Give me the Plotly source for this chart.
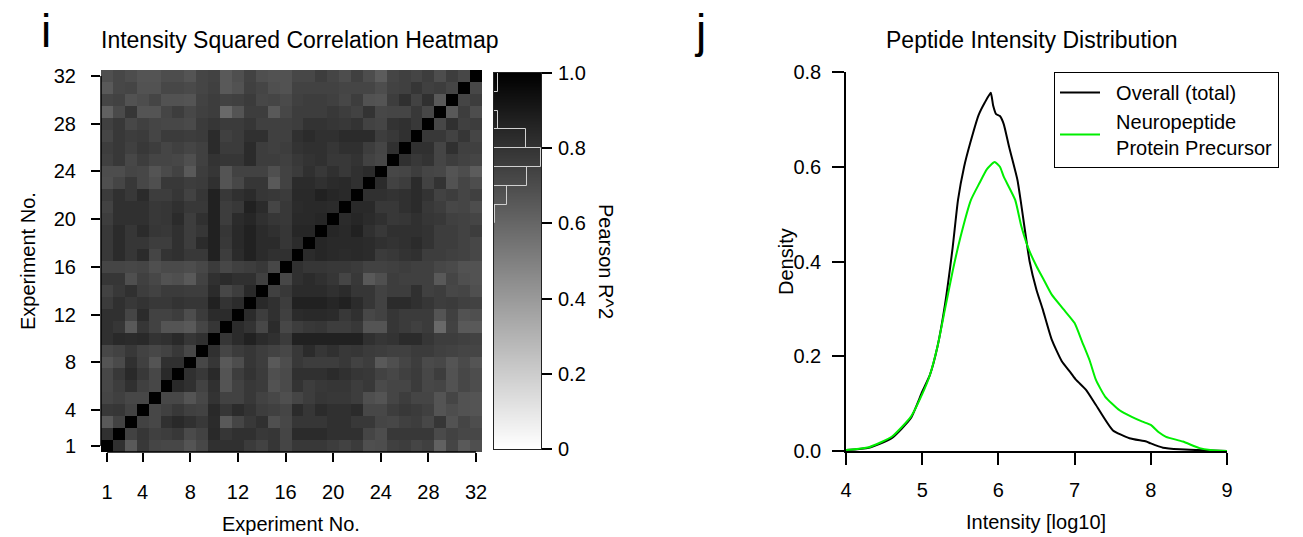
import numpy as np
import plotly.graph_objects as go

W, H = 1303, 537

experiments = list(range(1, 33))
experiment_ticks = [1, 4, 8, 12, 16, 20, 24, 28, 32]

# Pearson R^2 between experiments, lower triangle: row r holds columns 1..r-1
r2_lower = [
    [],
    [0.81],
    [0.65, 0.74],
    [0.78, 0.79, 0.74],
    [0.73, 0.75, 0.72, 0.72],
    [0.72, 0.76, 0.81, 0.75, 0.72],
    [0.72, 0.78, 0.84, 0.78, 0.72, 0.84],
    [0.67, 0.71, 0.81, 0.75, 0.67, 0.81, 0.81],
    [0.72, 0.74, 0.78, 0.74, 0.72, 0.74, 0.78, 0.72],
    [0.81, 0.84, 0.83, 0.84, 0.80, 0.81, 0.84, 0.79, 0.81],
    [0.81, 0.79, 0.65, 0.79, 0.74, 0.67, 0.67, 0.65, 0.73, 0.79],
    [0.81, 0.81, 0.73, 0.83, 0.74, 0.74, 0.76, 0.70, 0.77, 0.83, 0.83],
    [0.77, 0.81, 0.78, 0.80, 0.78, 0.78, 0.80, 0.79, 0.79, 0.87, 0.80, 0.83],
    [0.74, 0.78, 0.81, 0.76, 0.74, 0.77, 0.77, 0.76, 0.76, 0.83, 0.72, 0.76, 0.84],
    [0.79, 0.79, 0.69, 0.75, 0.72, 0.68, 0.69, 0.65, 0.74, 0.81, 0.83, 0.81, 0.81, 0.75],
    [0.73, 0.73, 0.72, 0.73, 0.69, 0.71, 0.71, 0.70, 0.72, 0.77, 0.72, 0.75, 0.76, 0.78, 0.72],
    [0.78, 0.83, 0.79, 0.83, 0.73, 0.80, 0.81, 0.78, 0.78, 0.87, 0.76, 0.83, 0.87, 0.83,
     0.81, 0.81],
    [0.78, 0.83, 0.79, 0.79, 0.76, 0.76, 0.81, 0.76, 0.83, 0.87, 0.78, 0.84, 0.87, 0.83,
     0.83, 0.79, 0.83],
    [0.78, 0.83, 0.79, 0.83, 0.79, 0.78, 0.81, 0.76, 0.79, 0.87, 0.79, 0.84, 0.87, 0.83,
     0.81, 0.79, 0.85, 0.85],
    [0.76, 0.81, 0.81, 0.81, 0.78, 0.79, 0.83, 0.76, 0.81, 0.87, 0.76, 0.83, 0.85, 0.81,
     0.79, 0.78, 0.84, 0.84, 0.85],
    [0.74, 0.81, 0.81, 0.81, 0.78, 0.79, 0.81, 0.78, 0.78, 0.87, 0.76, 0.78, 0.87, 0.83,
     0.73, 0.78, 0.83, 0.84, 0.84, 0.83],
    [0.77, 0.81, 0.78, 0.83, 0.76, 0.76, 0.79, 0.74, 0.79, 0.87, 0.78, 0.81, 0.83, 0.79,
     0.78, 0.77, 0.84, 0.84, 0.87, 0.85, 0.84],
    [0.69, 0.73, 0.78, 0.72, 0.69, 0.78, 0.78, 0.76, 0.77, 0.81, 0.67, 0.72, 0.79, 0.79,
     0.65, 0.74, 0.83, 0.83, 0.81, 0.83, 0.84, 0.81],
    [0.70, 0.70, 0.73, 0.72, 0.67, 0.71, 0.74, 0.65, 0.76, 0.79, 0.67, 0.74, 0.74, 0.74,
     0.69, 0.74, 0.77, 0.81, 0.78, 0.81, 0.78, 0.81, 0.83],
    [0.75, 0.78, 0.72, 0.76, 0.73, 0.73, 0.72, 0.69, 0.75, 0.80, 0.79, 0.79, 0.83, 0.76,
     0.76, 0.75, 0.78, 0.80, 0.81, 0.78, 0.78, 0.80, 0.74, 0.72],
    [0.76, 0.78, 0.75, 0.78, 0.76, 0.73, 0.75, 0.73, 0.75, 0.83, 0.77, 0.77, 0.83, 0.76,
     0.75, 0.76, 0.80, 0.81, 0.81, 0.79, 0.81, 0.81, 0.76, 0.73, 0.81],
    [0.73, 0.78, 0.76, 0.77, 0.73, 0.77, 0.77, 0.76, 0.77, 0.83, 0.75, 0.77, 0.81, 0.81,
     0.75, 0.75, 0.81, 0.83, 0.81, 0.81, 0.83, 0.83, 0.83, 0.76, 0.78, 0.81],
    [0.75, 0.78, 0.72, 0.75, 0.73, 0.72, 0.72, 0.71, 0.77, 0.79, 0.77, 0.77, 0.79, 0.75,
     0.75, 0.75, 0.76, 0.80, 0.80, 0.79, 0.78, 0.80, 0.74, 0.73, 0.80, 0.81, 0.78],
    [0.62, 0.71, 0.79, 0.67, 0.67, 0.73, 0.76, 0.72, 0.75, 0.76, 0.59, 0.67, 0.76, 0.76,
     0.65, 0.72, 0.76, 0.76, 0.76, 0.78, 0.76, 0.74, 0.80, 0.72, 0.73, 0.73, 0.78, 0.72],
    [0.73, 0.74, 0.68, 0.70, 0.73, 0.68, 0.68, 0.67, 0.74, 0.76, 0.74, 0.75, 0.77, 0.72,
     0.73, 0.71, 0.75, 0.76, 0.76, 0.75, 0.72, 0.76, 0.68, 0.67, 0.76, 0.81, 0.74, 0.81,
     0.65],
    [0.65, 0.72, 0.73, 0.68, 0.68, 0.72, 0.72, 0.71, 0.73, 0.75, 0.65, 0.68, 0.75, 0.73,
     0.69, 0.68, 0.74, 0.74, 0.74, 0.74, 0.73, 0.73, 0.73, 0.70, 0.74, 0.75, 0.79, 0.75,
     0.76, 0.73],
    [0.69, 0.72, 0.70, 0.67, 0.67, 0.70, 0.70, 0.67, 0.73, 0.74, 0.65, 0.69, 0.74, 0.69,
     0.68, 0.68, 0.72, 0.72, 0.76, 0.73, 0.70, 0.75, 0.70, 0.64, 0.73, 0.75, 0.73, 0.76,
     0.70, 0.76, 0.72],
]

r2_ticks = [0, 0.2, 0.4, 0.6, 0.8, 1.0]
r2_ticktext = ["0", "0.2", "0.4", "0.6", "0.8", "1.0"]
r2_bins = [0.6, 0.65, 0.7, 0.75, 0.8, 0.85, 0.9, 0.95, 1.0]

# density of peptide intensities (log10)
overall_x = [4.0, 4.3, 4.6, 4.85, 5.0, 5.1, 5.2, 5.3, 5.4, 5.47, 5.55, 5.63, 5.74,
             5.82, 5.9, 5.93, 5.97, 6.02, 6.07, 6.14, 6.25, 6.3, 6.41, 6.5, 6.58,
             6.7, 6.83, 6.95, 7.02, 7.15, 7.28, 7.5, 7.72, 7.94, 8.0, 8.16, 8.38,
             8.6, 8.8, 9.0]
overall_density = [0.002, 0.007, 0.027, 0.069, 0.125, 0.16, 0.22, 0.31, 0.43, 0.53,
                   0.60, 0.65, 0.709, 0.735, 0.756, 0.73, 0.711, 0.707, 0.69, 0.642,
                   0.572, 0.52, 0.40, 0.34, 0.30, 0.235, 0.19, 0.165, 0.15, 0.129,
                   0.097, 0.044, 0.027, 0.020, 0.016, 0.007, 0.0035, 0.002, 0.001, 0.0]

neuro_x = [4.0, 4.3, 4.6, 4.85, 5.0, 5.1, 5.2, 5.3, 5.4, 5.5, 5.64, 5.75, 5.85, 5.95,
           6.02, 6.07, 6.22, 6.3, 6.4, 6.5, 6.6, 6.7, 6.85, 7.0, 7.1, 7.2, 7.28, 7.4,
           7.59, 7.75, 7.89, 8.0, 8.1, 8.2, 8.42, 8.64, 8.78, 9.0]
neuro_density = [0.002, 0.008, 0.030, 0.072, 0.12, 0.16, 0.22, 0.30, 0.38, 0.45,
                 0.53, 0.565, 0.595, 0.610, 0.600, 0.579, 0.53, 0.475, 0.425, 0.39,
                 0.36, 0.33, 0.30, 0.27, 0.23, 0.19, 0.15, 0.115, 0.086, 0.072, 0.062,
                 0.055, 0.04, 0.030, 0.020, 0.006, 0.002, 0.0]

intensity_ticks = [4, 5, 6, 7, 8, 9]
density_ticks = [0, 0.2, 0.4, 0.6, 0.8]
density_ticktext = ["0.0", "0.2", "0.4", "0.6", "0.8"]

# full symmetric matrix
n = len(experiments)
r2 = np.eye(n)
for i, row in enumerate(r2_lower):
    for j, v in enumerate(row):
        r2[i, j] = v
        r2[j, i] = v

# histogram of all matrix values (diagonal included) for the colour key
counts, edges = np.histogram(r2.ravel(), bins=r2_bins)
bin_mids = (edges[:-1] + edges[1:]) / 2

grey = [[0, "#ffffff"], [1, "#000000"]]
font = "Liberation Sans, Arial, Helvetica, sans-serif"


def px_x(x):
    return x / W


def px_y(y):
    return 1 - y / H


hm_x = [px_x(101), px_x(482)]
hm_y = [px_y(452), px_y(70)]
cb_x = [px_x(494), px_x(541)]
cb_y = [px_y(449), px_y(73)]
de_x = [px_x(846), px_x(1227)]
de_y = [px_y(451), px_y(72)]

fig = go.Figure()

# Heatmap
fig.add_trace(
    go.Heatmap(
        z=r2,
        x=experiments,
        y=experiments,
        colorscale=grey,
        zmin=0,
        zmax=1,
        showscale=False,
        xaxis="x",
        yaxis="y",
    )
)

# Colour key drawn as a one-column heatmap
key_levels = np.linspace(0, 1, 256)
fig.add_trace(
    go.Heatmap(
        z=[[v] for v in key_levels],
        x=[0],
        y=key_levels,
        colorscale=grey,
        zmin=0,
        zmax=1,
        showscale=False,
        hoverinfo="skip",
        xaxis="x2",
        yaxis="y2",
    )
)

# Histogram bars on top of the key
fig.add_trace(
    go.Bar(
        x=counts,
        y=bin_mids,
        width=0.05,
        orientation="h",
        marker=dict(color="rgba(0,0,0,0)", line=dict(color="#d0d0d0", width=1)),
        showlegend=False,
        xaxis="x4",
        yaxis="y2",
    )
)

# Density curves
fig.add_trace(
    go.Scatter(
        x=overall_x,
        y=overall_density,
        mode="lines",
        line=dict(color="#000000", width=2, shape="spline", smoothing=0.5),
        name="\u00a0\u00a0Overall (total)",
        cliponaxis=False,
        xaxis="x3",
        yaxis="y3",
    )
)
fig.add_trace(
    go.Scatter(
        x=neuro_x,
        y=neuro_density,
        mode="lines",
        line=dict(color="#00ee00", width=2, shape="spline", smoothing=0.5),
        name="\u00a0\u00a0Neuropeptide<br>\u00a0\u00a0Protein Precursor",
        cliponaxis=False,
        xaxis="x3",
        yaxis="y3",
    )
)

tick_common = dict(
    ticks="outside",
    tickcolor="black",
    tickwidth=1.5,
    tickfont=dict(size=20, color="black"),
    showgrid=False,
    zeroline=False,
    automargin=False,
    fixedrange=True,
)

fig.update_layout(
    template="none",
    width=W,
    height=H,
    autosize=False,
    margin=dict(l=0, r=0, t=0, b=0, pad=0),
    paper_bgcolor="white",
    plot_bgcolor="white",
    font=dict(family=font, size=20, color="black"),
    showlegend=True,
    legend=dict(
        x=px_x(1054),
        y=px_y(72),
        xanchor="left",
        yanchor="top",
        bordercolor="black",
        borderwidth=1,
        bgcolor="white",
        font=dict(size=20),
        itemwidth=40,
        tracegroupgap=0,
    ),
    xaxis=dict(
        domain=hm_x,
        range=[0.5, 32.5],
        tickvals=experiment_ticks,
        ticklen=9,
        ticklabelstandoff=13,
        showline=False,
        anchor="y",
        **tick_common,
    ),
    yaxis=dict(
        domain=hm_y,
        range=[0.5, 32.5],
        tickvals=experiment_ticks,
        ticklen=9,
        ticklabelstandoff=11,
        showline=False,
        anchor="x",
        **tick_common,
    ),
    xaxis2=dict(
        domain=cb_x,
        range=[-0.5, 0.5],
        showline=True,
        mirror=True,
        linecolor="#222222",
        linewidth=1,
        ticks="",
        showticklabels=False,
        showgrid=False,
        zeroline=False,
        automargin=False,
        anchor="y2",
        fixedrange=True,
    ),
    yaxis2=dict(
        domain=cb_y,
        range=[0, 1],
        side="right",
        tickvals=r2_ticks,
        ticktext=r2_ticktext,
        ticklen=10,
        ticklabelstandoff=2,
        showline=True,
        mirror=True,
        linecolor="#222222",
        linewidth=1,
        anchor="x2",
        **tick_common,
    ),
    xaxis4=dict(
        domain=cb_x,
        range=[0, counts.max()],
        overlaying="x2",
        visible=False,
        anchor="y2",
        automargin=False,
        fixedrange=True,
    ),
    xaxis3=dict(
        domain=de_x,
        range=[4, 9],
        tickvals=intensity_ticks,
        ticklen=12,
        ticklabelstandoff=8,
        showline=True,
        linecolor="black",
        linewidth=1.5,
        anchor="y3",
        **tick_common,
    ),
    yaxis3=dict(
        domain=de_y,
        range=[0, 0.8],
        tickvals=density_ticks,
        ticktext=density_ticktext,
        ticklen=12,
        ticklabelstandoff=7,
        showline=True,
        linecolor="black",
        linewidth=1.5,
        anchor="x3",
        **tick_common,
    ),
    bargap=0,
)

# R style axis lines that stop at the first and last tick
fig.add_shape(type="line", xref="x", yref="paper", x0=1, x1=32, y0=hm_y[0], y1=hm_y[0],
              line=dict(color="black", width=1.5))
fig.add_shape(type="line", xref="paper", yref="y", x0=hm_x[0], x1=hm_x[0], y0=1, y1=32,
              line=dict(color="black", width=1.5))


def label(text, x, y, size=20, angle=0):
    fig.add_annotation(
        text=text,
        x=px_x(x),
        y=px_y(y),
        xref="paper",
        yref="paper",
        xanchor="center",
        yanchor="middle",
        showarrow=False,
        textangle=angle,
        font=dict(size=size, color="black", family=font),
    )


label("Intensity Squared Correlation Heatmap", 300, 40, size=23)
label("Peptide Intensity Distribution", 1032, 40, size=23)
label("i", 46, 31, size=46)
label("j", 700, 31, size=46)
label("Experiment No.", 291, 524)
label("Experiment No.", 28, 261, angle=-90)
label("Pearson R^2", 606, 261, angle=90)
label("Intensity [log10]", 1036, 522)
label("Density", 786, 262, angle=-90)

# the page body keeps a default 8px margin; remove it so the figure sits at 0,0
fig.write_html(
    "out.html",
    config={"displayModeBar": False},
    post_script="document.body.style.margin='0px';",
)
